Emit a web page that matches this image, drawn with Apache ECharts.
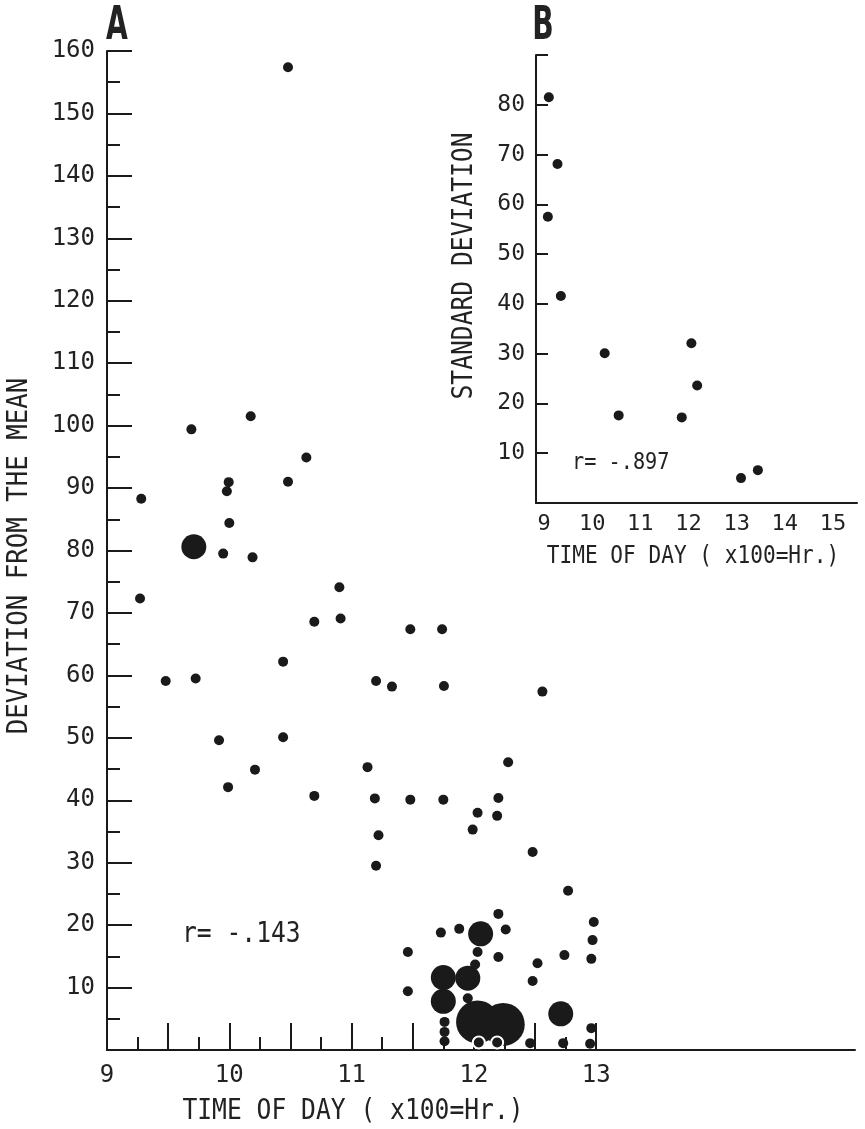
<!DOCTYPE html>
<html>
<head>
<meta charset="utf-8">
<script src="https://cdn.jsdelivr.net/npm/echarts@6/dist/echarts.min.js"></script>
<style>
  html, body { margin: 0; padding: 0; background: #fff; }
  #chart { width: 865px; height: 1129px; }
</style>
</head>
<body>
<div id="chart"></div>
<script>
// A: deviation from the mean against time of day (x100 = hr)
var smallDots = [
  [10.48, 157.4],
  [10.175, 101.5], [9.69, 99.4], [10.63, 94.9], [9.995, 90.95], [9.98, 89.5], [10.48, 91],
  [9.28, 88.3], [10.0, 84.4], [9.95, 79.5], [10.19, 78.9],
  [9.27, 72.3], [10.90, 74.1], [10.695, 68.6], [10.91, 69.1], [11.48, 67.4], [11.74, 67.4],
  [10.44, 62.2], [9.48, 59.1], [9.725, 59.5], [11.20, 59.1], [11.33, 58.2], [11.755, 58.3],
  [12.56, 57.4], [9.916, 49.6], [10.44, 50.1], [10.21, 44.9], [9.99, 42.1], [11.13, 45.3],
  [12.28, 46.1], [10.695, 40.7], [11.19, 40.3], [11.48, 40.1], [11.75, 40.1], [12.2, 40.35],
  [12.03, 38.0], [12.19, 37.5], [11.99, 35.3], [11.22, 34.4], [12.48, 31.7], [11.20, 29.5],
  [12.77, 25.5], [12.2, 21.8], [12.98, 20.5], [11.88, 19.4], [12.26, 19.3], [11.73, 18.8],
  [12.97, 17.6], [12.03, 15.7], [11.46, 15.7], [12.74, 15.2], [12.20, 14.9], [12.96, 14.6],
  [12.52, 13.9], [12.01, 13.7], [12.48, 11.05], [11.46, 9.4], [11.95, 8.3],
  [11.76, 4.5], [11.76, 2.9], [11.76, 1.4], [12.96, 3.5], [12.46, 1.1], [12.73, 1.1], [12.95, 1.0]
];
var largeDots = [[9.71, 80.6], [12.055, 18.6], [11.75, 11.6], [11.95, 11.5], [11.75, 7.8], [12.71, 5.8]];
var largestDots = [[12.03, 4.5], [12.24, 4.1]];
var ringedDots = [[12.04, 1.2], [12.19, 1.2]];
var aTimeLabels = [9, 10, 11, 12, 13];

// B: standard deviation against time of day
var sdDots = [
  [9.10, 81.5], [9.28, 68.1], [9.08, 57.5], [9.35, 41.6], [10.26, 30.1], [12.06, 32.1],
  [12.18, 23.6], [10.55, 17.6], [11.86, 17.2], [13.09, 5.0], [13.44, 6.6]
];
var bTimeLabels = [9, 10, 11, 12, 13, 14, 15];

var ink = '#1a1a1a';
var mono = '"DejaVu Sans Mono", "Liberation Mono", monospace';
var narrow = '"Liberation Sans Narrow", "DejaVu Sans Condensed", sans-serif';

var chart = echarts.init(document.getElementById('chart'));

function line(w) { return { color: ink, width: w }; }
function labelStyle(size, margin, fmt) {
  return { show: true, fontSize: size, fontFamily: mono, color: '#222', margin: margin, formatter: fmt };
}
function dots(data, size, xi, extra) {
  var style = { color: ink, opacity: 1 };
  if (extra) { style.borderColor = '#fff'; style.borderWidth = 2; }
  return { type: 'scatter', xAxisIndex: xi, yAxisIndex: xi, data: data, symbolSize: size,
    itemStyle: style, emphasis: { disabled: true }, silent: true };
}
function txt(text, x, y, opts) {
  opts = opts || {};
  return {
    type: 'text', x: x, y: y, rotation: opts.rotation || 0,
    scaleX: opts.scaleX || 1, silent: true,
    style: {
      text: text, fill: '#222',
      fontSize: opts.size || 28, fontFamily: opts.family || mono, fontWeight: opts.weight || 'normal',
      align: opts.align || 'center', verticalAlign: 'middle',
      textAlign: opts.align || 'center', textVerticalAlign: 'middle'
    }
  };
}

var option = {
  animation: false,
  backgroundColor: '#fff',
  grid: [
    { left: 107, right: 10, top: 51, bottom: 79, outerBoundsMode: 'none' },
    { left: 107, width: 489.2, top: 51, bottom: 79, outerBoundsMode: 'none' },
    { left: 536, right: 8, top: 55, bottom: 626, outerBoundsMode: 'none' },
    { left: 544, width: 289, top: 55, bottom: 626, outerBoundsMode: 'none' }
  ],
  xAxis: [
    { gridIndex: 0, type: 'value', min: 9, max: 15.116, axisLine: { show: true, lineStyle: line(2) },
      axisTick: { show: false }, axisLabel: { show: false }, splitLine: { show: false } },
    { gridIndex: 1, type: 'value', min: 9, max: 13, interval: 0.5,
      axisLine: { show: false },
      axisTick: { show: true, inside: true, length: 27, lineStyle: line(2) },
      minorTick: { show: true, splitNumber: 2, length: 13, lineStyle: line(2) },
      axisLabel: labelStyle(24, 14, function (v) { return aTimeLabels.indexOf(v) >= 0 ? String(v) : ''; }),
      splitLine: { show: false }, minorSplitLine: { show: false } },
    { gridIndex: 2, type: 'value', min: 8.834, max: 15.498, axisLine: { show: true, lineStyle: line(2) },
      axisTick: { show: false }, axisLabel: { show: false }, splitLine: { show: false } },
    { gridIndex: 3, type: 'value', min: 9, max: 15, interval: 1,
      axisLine: { show: false }, axisTick: { show: false },
      axisLabel: labelStyle(22, 10, function (v) { return bTimeLabels.indexOf(v) >= 0 ? String(v) : ''; }),
      splitLine: { show: false } }
  ],
  yAxis: [
    { gridIndex: 0, type: 'value', min: 0, max: 160, interval: 10,
      axisLine: { show: true, lineStyle: line(2) },
      axisTick: { show: true, inside: true, length: 25, lineStyle: line(2) },
      minorTick: { show: true, splitNumber: 2, length: 13, lineStyle: line(2) },
      axisLabel: labelStyle(24, 12, function (v) { return v === 0 ? '' : String(v); }),
      splitLine: { show: false }, minorSplitLine: { show: false } },
    { gridIndex: 1, type: 'value', min: 0, max: 1, show: false },
    { gridIndex: 2, type: 'value', min: 0, max: 90, interval: 10,
      axisLine: { show: true, lineStyle: line(2) },
      axisTick: { show: true, inside: true, length: 12, lineStyle: line(2) },
      axisLabel: labelStyle(23, 11, function (v) { return (v === 0 || v === 90) ? '' : String(v); }),
      splitLine: { show: false } },
    { gridIndex: 3, type: 'value', min: 0, max: 1, show: false }
  ],
  series: [
    dots(largestDots, 43, 0),
    dots(largeDots, 25, 0),
    dots(smallDots, 10, 0),
    dots(ringedDots, 12, 0, true),
    dots(sdDots, 10, 2)
  ],
  graphic: [
    txt('A', 117, 27, { size: 46, family: narrow, weight: 'bold', scaleX: 0.68 }),
    txt('B', 543, 27, { size: 46, family: narrow, weight: 'bold', scaleX: 0.68 }),
    txt('DEVIATION FROM THE MEAN', 20, 556, { rotation: Math.PI / 2, scaleX: 0.92 }),
    txt('TIME OF DAY ( x100=Hr.)', 353, 1112, { scaleX: 0.88 }),
    txt('r= -.143', 182, 935, { align: 'left', scaleX: 0.88 }),
    txt('STANDARD DEVIATION', 465, 266, { rotation: Math.PI / 2, scaleX: 0.88 }),
    txt('TIME OF DAY ( x100=Hr.)', 693, 557, { size: 24, scaleX: 0.88 }),
    txt('r= -.897', 572, 463, { size: 23, align: 'left', scaleX: 0.88 })
  ]
};

chart.setOption(option);
</script>
</body>
</html>
